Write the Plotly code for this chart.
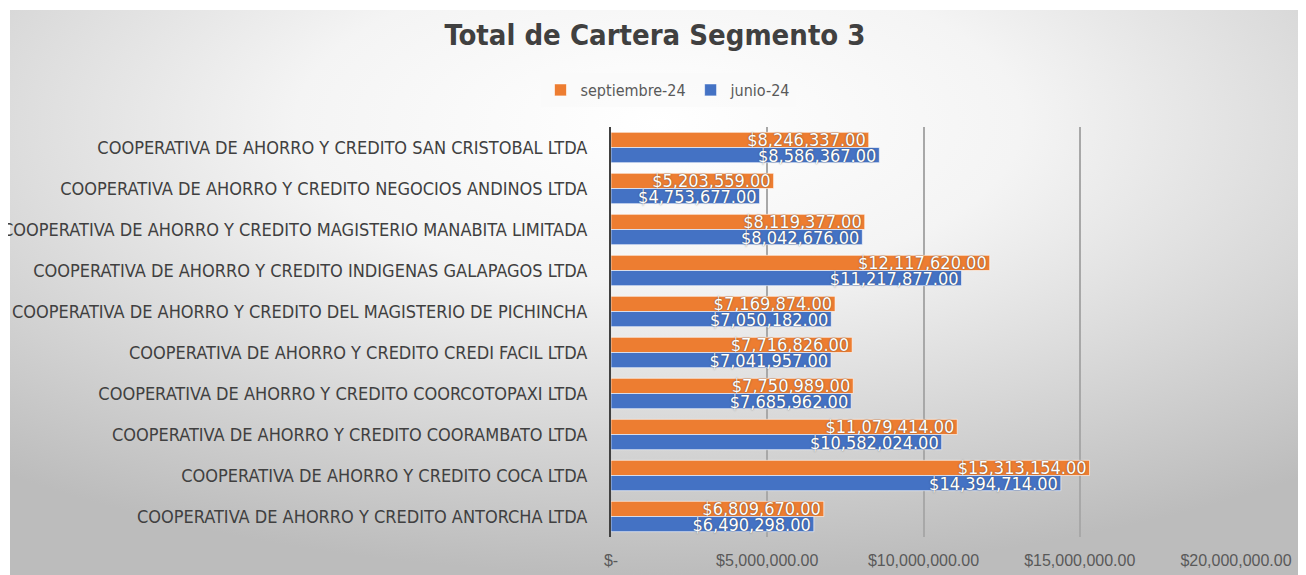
import base64
import plotly.graph_objects as go

# data (top to bottom)
cooperativas = [
    "COOPERATIVA DE AHORRO Y CREDITO SAN CRISTOBAL LTDA",
    "COOPERATIVA DE AHORRO Y CREDITO NEGOCIOS ANDINOS LTDA",
    "COOPERATIVA DE AHORRO Y CREDITO MAGISTERIO MANABITA LIMITADA",
    "COOPERATIVA DE AHORRO Y CREDITO INDIGENAS GALAPAGOS LTDA",
    "COOPERATIVA DE AHORRO Y CREDITO DEL MAGISTERIO DE PICHINCHA",
    "COOPERATIVA DE AHORRO Y CREDITO CREDI FACIL LTDA",
    "COOPERATIVA DE AHORRO Y CREDITO COORCOTOPAXI LTDA",
    "COOPERATIVA DE AHORRO Y CREDITO COORAMBATO LTDA",
    "COOPERATIVA DE AHORRO Y CREDITO COCA LTDA",
    "COOPERATIVA DE AHORRO Y CREDITO ANTORCHA LTDA",
]
septiembre_24 = [8246337, 5203559, 8119377, 12117620, 7169874,
                 7716826, 7750989, 11079414, 15313154, 6809670]
junio_24 = [8586367, 4753677, 8042676, 11217877, 7050182,
            7041957, 7685962, 10582024, 14394714, 6490298]

tick_vals = [0, 5000000, 10000000, 15000000, 20000000]
tick_text = ["$-", "$5,000,000.00", "$10,000,000.00", "$15,000,000.00", "$20,000,000.00"]

# the page body has an 8px margin, so the figure is 8px smaller each way
OFF = 8
W, H = 1306 - OFF, 575 - OFF
L, R, T, B = 611 - OFF, 70, 127 - OFF, 38
pw, ph = W - L - R, H - T - B

COND = "DejaVu Sans Condensed"


def money(v):
    return "${:,.2f}".format(v)


# page pixel -> paper coords
def px_x(p):
    return (p - OFF - L) / pw


def px_y(p):
    return (H - B - (p - OFF)) / ph


# radial grey background like the excel chart area
svg = """<svg xmlns='http://www.w3.org/2000/svg' width='1296' height='565' preserveAspectRatio='none' viewBox='0 0 1296 565'>
<defs><radialGradient id='g' cx='0.5' cy='0.2' r='0.8'>
<stop offset='0' stop-color='#ffffff'/>
<stop offset='0.35' stop-color='#f4f4f4'/>
<stop offset='1' stop-color='#bcbcbc'/>
</radialGradient></defs>
<rect width='1296' height='565' fill='url(#g)'/></svg>"""
bg = "data:image/svg+xml;base64," + base64.b64encode(svg.encode()).decode()

label_font = dict(family=COND, size=18, color="white",
                  shadow="0px 0px 1.5px rgba(60,60,60,0.9)")

fig = go.Figure()
fig.add_trace(go.Bar(
    y=cooperativas, x=septiembre_24, name="septiembre-24", orientation="h",
    marker=dict(color="#ED7D31", line=dict(color="rgba(255,255,255,0.6)", width=1)),
    text=[money(v) for v in septiembre_24], textposition="inside",
    insidetextanchor="end", constraintext="none", textfont=label_font,
    cliponaxis=False,
))
fig.add_trace(go.Bar(
    y=cooperativas, x=junio_24, name="junio-24", orientation="h",
    marker=dict(color="#4472C4", line=dict(color="rgba(255,255,255,0.6)", width=1)),
    text=[money(v) for v in junio_24], textposition="inside",
    insidetextanchor="end", constraintext="none", textfont=label_font,
    cliponaxis=False,
))

fig.update_layout(
    width=W, height=H,
    margin=dict(l=L, r=R, t=T, b=B, autoexpand=False),
    paper_bgcolor="white",
    plot_bgcolor="rgba(0,0,0,0)",
    barmode="group",
    bargap=0.26,
    bargroupgap=0.0,
    title=dict(text="<b>Total de Cartera Segmento 3</b>", x=(655 - OFF) / W, xref="container",
               xanchor="center", y=1 - (35 - OFF) / H, yanchor="middle",
               font=dict(family=COND, size=29, color="#404040")),
    legend=dict(orientation="h", x=px_x(668), xanchor="center", y=px_y(90), yanchor="middle",
                bgcolor="rgba(250,250,250,0.7)", font=dict(family=COND, size=16, color="#595959"),
                itemwidth=30, tracegroupgap=0),
    images=[dict(source=bg, xref="paper", yref="paper", x=px_x(10), y=px_y(10),
                 sizex=px_x(1306) - px_x(10), sizey=px_y(10) - px_y(575),
                 xanchor="left", yanchor="top", sizing="stretch", layer="below")],
    xaxis=dict(range=[0, 20000000], tickvals=tick_vals, ticktext=tick_text,
               showgrid=True, gridcolor="#a8a8a8", gridwidth=1.5, zeroline=False,
               tickfont=dict(family="Liberation Sans", size=16, color="#595959"),
               ticks="", ticklabelstandoff=12, automargin=False),
    yaxis=dict(autorange="reversed", showline=True, linecolor="#404040", linewidth=2,
               tickfont=dict(family=COND, size=18, color="#404040"),
               ticks="", ticklabelstandoff=18, automargin=False),
    showlegend=True,
)

fig.write_html("out.html")
